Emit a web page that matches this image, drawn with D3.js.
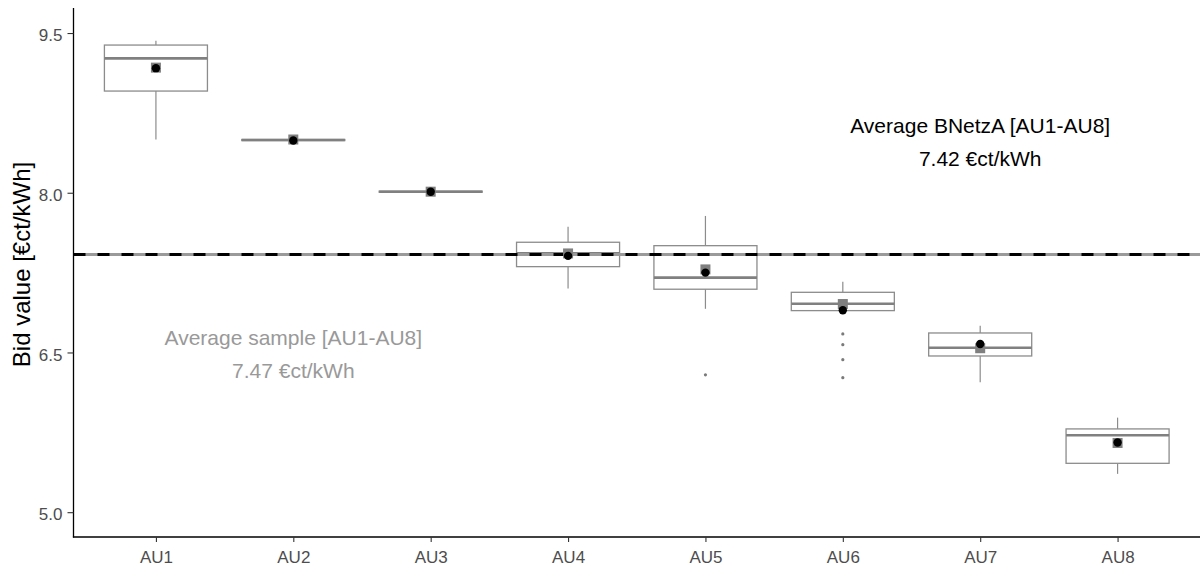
<!DOCTYPE html>
<html>
<head>
<meta charset="utf-8">
<script src="https://cdn.jsdelivr.net/npm/d3@7"></script>
<style>
  html, body { margin: 0; padding: 0; background: #fff; }
  svg { display: block; font-family: "Liberation Sans", Arial, sans-serif; }
</style>
</head>
<body>
<svg id="chart" width="1200" height="575"></svg>
<script>
const categories = ["AU1", "AU2", "AU3", "AU4", "AU5", "AU6", "AU7", "AU8"];
const lowerWhisker = [8.50, 8.49, 8.005, 7.10, 6.91, 6.893, 6.22, 5.36];
const q1 = [8.955, 8.49, 8.005, 7.306, 7.094, 6.893, 6.467, 5.459];
const median = [9.262, 8.495, 8.01, 7.432, 7.203, 6.958, 6.545, 5.722];
const q3 = [9.387, 8.50, 8.015, 7.535, 7.503, 7.065, 6.683, 5.782];
const upperWhisker = [9.428, 8.50, 8.015, 7.681, 7.782, 7.165, 6.752, 5.888];
const sampleMean = [9.175, 8.50, 8.01, 7.43, 7.28, 6.955, 6.54, 5.65];
const bnetzaMean = [9.17, 8.49, 8.01, 7.407, 7.25, 6.896, 6.58, 5.654];
const outlierCategory = ["AU5", "AU6", "AU6", "AU6", "AU6"];
const outlierValue = [6.29, 6.674, 6.573, 6.432, 6.263];
const yTicks = [5.0, 6.5, 8.0, 9.5];
const bnetzaAverage = 7.42;
const sampleAverage = 7.47;
const annotSampleLines = ["Average sample [AU1-AU8]", "7.47 €ct/kWh"];
const annotSamplePos = { cat: "AU2", y: 6.5 };
const annotBnetzaLines = ["Average BNetzA [AU1-AU8]", "7.42 €ct/kWh"];
const annotBnetzaPos = { cat: "AU7", y: 8.5 };
const yDomain = [4.767, 9.735];

const svg = d3.select("#chart");
const mLeft = 73.5, mRight = 1200, mTop = 8, mBottom = 537;

const x = d3.scalePoint().domain(categories).range([mLeft, mRight]).padding(0.6);
const y = d3.scaleLinear().domain(yDomain).range([mBottom, mTop]);
const bw = x.step() * 0.75;

const boxes = categories.map((c, i) => ({
  c, lo: lowerWhisker[i], q1: q1[i], med: median[i], q3: q3[i], hi: upperWhisker[i],
  sm: sampleMean[i], bm: bnetzaMean[i]
}));

const boxColor = "#8c8c8c";
const g = svg.append("g");

// whiskers
g.selectAll("line.wu").data(boxes).join("line")
  .attr("x1", d => x(d.c)).attr("x2", d => x(d.c))
  .attr("y1", d => y(d.q3)).attr("y2", d => y(d.hi))
  .attr("stroke", boxColor).attr("stroke-width", 1.2);
g.selectAll("line.wl").data(boxes).join("line")
  .attr("x1", d => x(d.c)).attr("x2", d => x(d.c))
  .attr("y1", d => y(d.q1)).attr("y2", d => y(d.lo))
  .attr("stroke", boxColor).attr("stroke-width", 1.2);

// boxes
g.selectAll("rect.box").data(boxes).join("rect")
  .attr("x", d => x(d.c) - bw / 2).attr("width", bw)
  .attr("y", d => y(d.q3)).attr("height", d => Math.max(0.01, y(d.q1) - y(d.q3)))
  .attr("fill", "#fff").attr("stroke", boxColor).attr("stroke-width", 1.3);

// medians
g.selectAll("line.med").data(boxes).join("line")
  .attr("x1", d => x(d.c) - bw / 2).attr("x2", d => x(d.c) + bw / 2)
  .attr("y1", d => y(d.med)).attr("y2", d => y(d.med))
  .attr("stroke", "#808080").attr("stroke-width", 2.6);

// outliers
g.selectAll("circle.out").data(outlierValue).join("circle")
  .attr("cx", (d, i) => x(outlierCategory[i])).attr("cy", d => y(d))
  .attr("r", 1.6).attr("fill", "#7a7a7a");

// average lines
g.append("line")
  .attr("x1", mLeft).attr("x2", mRight)
  .attr("y1", y(bnetzaAverage)).attr("y2", y(bnetzaAverage))
  .attr("stroke", "#9a9a9a").attr("stroke-width", 3);
g.append("line")
  .attr("x1", mLeft).attr("x2", mRight)
  .attr("y1", y(bnetzaAverage)).attr("y2", y(bnetzaAverage))
  .attr("stroke", "#000").attr("stroke-width", 3)
  .attr("stroke-dasharray", "12,12");

// sample means (grey squares)
g.selectAll("rect.sm").data(boxes).join("rect")
  .attr("x", d => x(d.c) - 5).attr("y", d => y(d.sm) - 5)
  .attr("width", 10).attr("height", 10).attr("fill", "#7f7f7f");

// BNetzA means (black dots)
g.selectAll("circle.bm").data(boxes).join("circle")
  .attr("cx", d => x(d.c)).attr("cy", d => y(d.bm))
  .attr("r", 4.2).attr("fill", "#000");

// axes
const yAxis = d3.axisLeft(y).tickValues(yTicks).tickFormat(d3.format(".1f")).tickSize(6).tickPadding(5);
const ya = svg.append("g").attr("transform", `translate(${mLeft},0)`).call(yAxis);
ya.select(".domain").attr("d", `M0,${mTop}V${mBottom + 0.6}`).attr("stroke", "#000").attr("stroke-width", 1.3);
ya.selectAll(".tick line").attr("stroke", "#333").attr("stroke-width", 1.1);
ya.selectAll(".tick text").attr("fill", "#4d4d4d").attr("font-size", 17).attr("dy", "0.45em")
  .attr("font-family", "Liberation Sans, Arial, sans-serif");

const xAxis = d3.axisBottom(x).tickSize(5).tickPadding(9);
const xa = svg.append("g").attr("transform", `translate(0,${mBottom})`).call(xAxis);
xa.select(".domain").attr("d", `M${mLeft - 0.6},0H${mRight}`).attr("stroke", "#000").attr("stroke-width", 1.3);
xa.selectAll(".tick line").attr("stroke", "#333").attr("stroke-width", 1.1);
xa.selectAll(".tick text").attr("fill", "#4d4d4d").attr("font-size", 17)
  .attr("font-family", "Liberation Sans, Arial, sans-serif");

// y title
svg.append("text")
  .attr("transform", `translate(30,${(mTop + mBottom) / 2 - 8}) rotate(-90)`)
  .attr("text-anchor", "middle").attr("font-size", 24).attr("fill", "#000")
  .text("Bid value [€ct/kWh]");

// annotations
function annot(lines, pos, color) {
  const t = svg.append("text").attr("text-anchor", "middle").attr("font-size", 21).attr("fill", color);
  const offs = [-7, 26];
  lines.forEach((l, i) => {
    t.append("tspan").attr("x", x(pos.cat)).attr("y", y(pos.y) + offs[i]).text(l);
  });
}
annot(annotSampleLines, annotSamplePos, "#999999");
annot(annotBnetzaLines, annotBnetzaPos, "#000000");
</script>
</body>
</html>
